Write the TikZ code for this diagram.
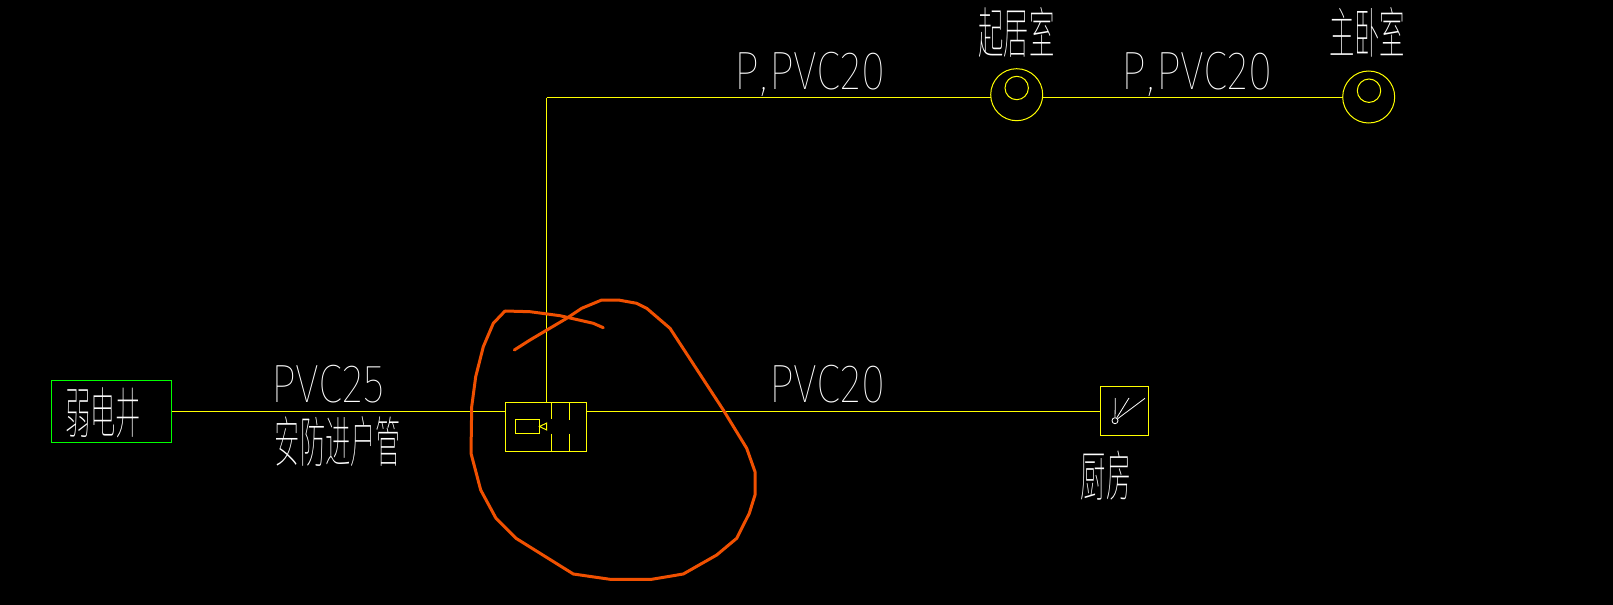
\documentclass[tikz,border=0pt]{standalone}
\usepackage{fontspec}
\newfontfamily\cadfont[FakeStretch=0.82]{Fira Sans Thin}
\newfontfamily\cadcjk[FakeStretch=0.46]{Noto Sans CJK SC Thin}
\usepackage{tikz}
\usetikzlibrary{calc,positioning}
\definecolor{cadyellow}{RGB}{255,255,0}
\definecolor{cadgreen}{RGB}{0,255,0}
\definecolor{markup}{RGB}{240,80,0}

\begin{document}
\begin{tikzpicture}
    [x=0.5pt, y=-0.5pt, line/.style={draw=cadyellow, line width=0.5pt},
    markstroke/.style={draw=markup, line width=1.5pt, line join=round, line cap=round}]
    % Define styles for blocks, outlets and labels
    \tikzstyle{block} = [draw=cadyellow, rectangle, line width=0.5pt, inner sep=0pt, outer sep=0pt]
    \tikzstyle{outlet} = [draw=cadyellow, circle, line width=0.5pt, inner sep=0pt, outer sep=0pt, minimum size=26pt]
    \tikzstyle{core} = [draw=cadyellow, circle, line width=0.5pt, inner sep=0pt, outer sep=0pt, minimum size=11.7pt]
    \tikzstyle{pipelabel} = [text=white, inner sep=0pt, anchor=base, font=\cadfont\fontsize{27}{27}\selectfont]
    \tikzstyle{roomlabel} = [text=white, inner sep=0pt, anchor=base, font=\cadcjk\fontsize{27.5}{27.5}\selectfont]

    % Background
    \fill[black] (0,0) rectangle (1613,605);
    \useasboundingbox (0,0) rectangle (1613,605);

    % Nodes placement
    \node [block, draw=cadgreen, minimum width=60pt, minimum height=31pt] (shaft) at (111.5,411.5) {};
    \node [block, minimum width=40.5pt, minimum height=24.5pt] (cabinet) at (546,427) {};
    \node [block, minimum width=12pt, minimum height=7pt] (camera) at (527.5,426.5) {};
    \node [block, minimum width=24pt, minimum height=24.5pt] (kitchen) at (1124.5,411) {};
    \node [outlet] (lounge) at (1016.7,94.7) {};
    \node [core] (loungecore) at (1016.7,88) {};
    \node [outlet] (bedroom) at (1368.7,97) {};
    \node [core] (bedroomcore) at (1369,90.7) {};
    \node [draw=white, circle, line width=0.4pt, inner sep=0pt, minimum size=3pt] (pivot) at (1115,420.7) {};
    \coordinate (riser) at (546.5,97.5);

    % Draw edges
    \draw[line] (riser) -- (riser -| lounge.west);
    \draw[line] (riser -| lounge.east) -- (riser -| bedroom.west);
    \draw[line] (riser) -- (riser |- cabinet.north);
    \draw[line] (shaft.east |- 0,411.5) -- (cabinet.west |- 0,411.5);
    \draw[line] (cabinet.east |- 0,411.5) -- (kitchen.west |- 0,411.5);

    % Switch bars and lens inside the cabinet
    \draw[line] (551.5,402.5) -- (551.5,419) (551.5,433.5) -- (551.5,451.5);
    \draw[line] (569.5,402.5) -- (569.5,420) (569.5,433.5) -- (569.5,451.5);
    \draw[line] (camera.east) -- (546.7,423) -- (546.7,430) -- cycle;

    % Kitchen switch blades
    \draw[white, line width=0.4pt] (pivot) -- (1115.3,398);
    \draw[white, line width=0.4pt] (pivot) -- (1129,398);
    \draw[white, line width=0.4pt] (pivot) -- (1145,398.3);

    % Labels
    \node [pipelabel] (upperleft) at (810,89) {P\kern0.5pt,\kern1pt PVC20};
    \node [pipelabel] (upperright) at (1197,89) {P\kern0.5pt,\kern1pt PVC20};
    \node [pipelabel] (entrypipe) at (328,402.5) {PVC25};
    \node [pipelabel] (kitchenpipe) at (827.5,402.5) {PVC20};
    \node [roomlabel] (entryname) at (338,462) {安防进户管};
    \node [roomlabel] (shaftname) at (103,433) {弱电井};
    \node [roomlabel] (kitchenname) at (1106,496) {厨房};
    \node [roomlabel] (loungename) at (1016.5,54) {起居室};
    \node [roomlabel] (bedroomname) at (1367,54) {主卧室};

    % Hand drawn markup
    \draw[markstroke] (505,311) -- (493.3,323.3) -- (483.3,346.7) -- (475.7,376.7) -- (471.7,406.7)
        -- (471,453.3) -- (480.7,490) -- (496,518.3) -- (516,538.3) -- (573.3,574) -- (610,579.3)
        -- (651.7,579.3) -- (683.3,574) -- (716.7,555) -- (736.7,538.3) -- (749.3,513.3) -- (755,495)
        -- (755,471.7) -- (746.7,448.3) -- (723.3,410) -- (670,328.3) -- (646.7,308.3) -- (636.7,303.3)
        -- (618.3,300) -- (601.7,300) -- (581.7,308.3) -- (566.7,318.3) -- (530,340) -- (514.3,350);
    \draw[markstroke] (505,311) -- (530,311.7) -- (560,315.7) -- (593.3,323.3) -- (603.3,327.7);
\end{tikzpicture}
\end{document}
